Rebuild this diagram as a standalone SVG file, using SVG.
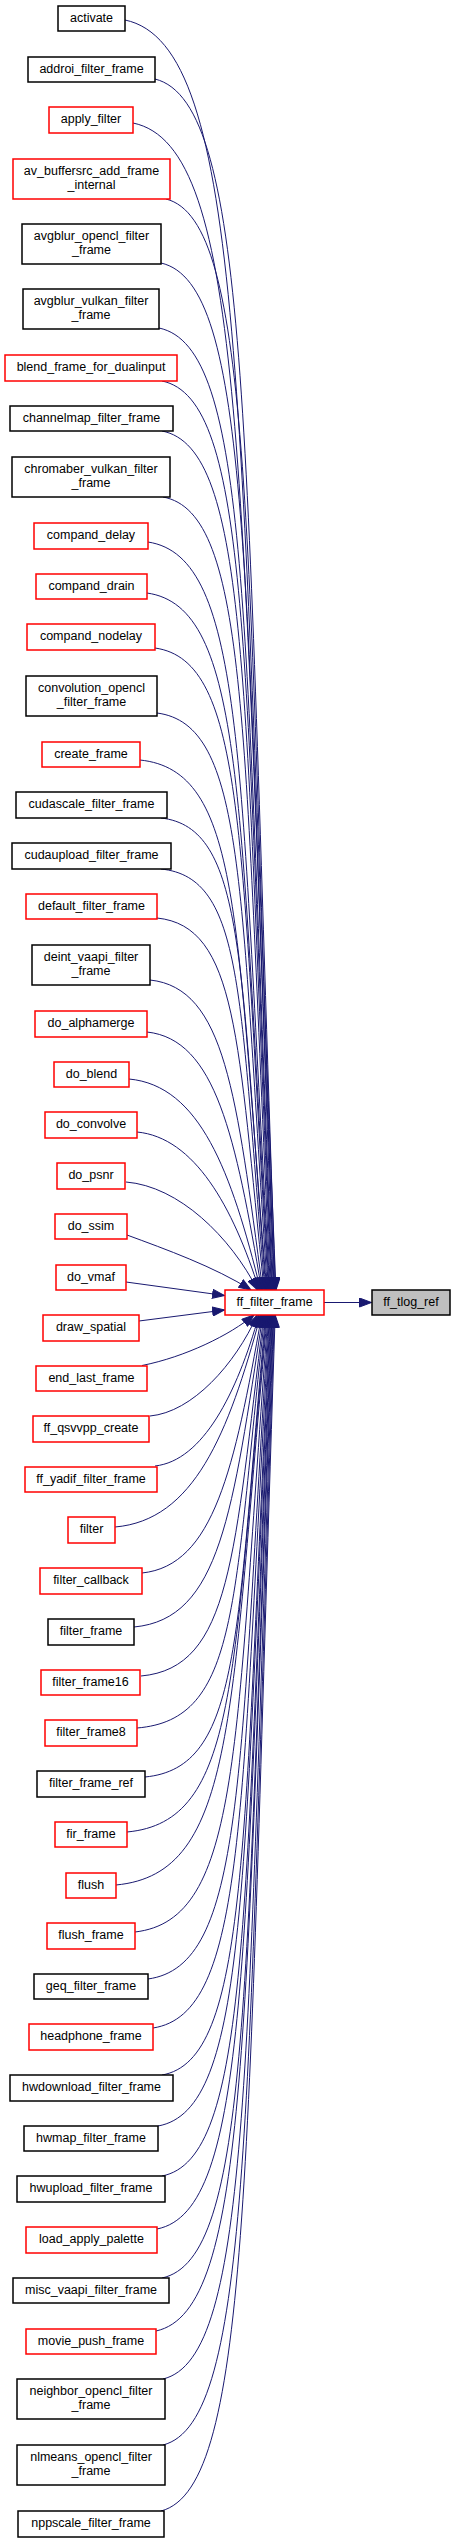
<svg xmlns="http://www.w3.org/2000/svg" width="455" height="2543" viewBox="0 0 455 2543">
<defs>
<style>
.r rect{fill:#fff;stroke:#ff0000;stroke-width:1.5}
.k rect{fill:#fff;stroke:#000;stroke-width:1.5}
.g rect{fill:#bfbfbf;stroke:#000;stroke-width:1.5}
text{font-family:"Liberation Sans",Arial,sans-serif;font-size:12.5px;text-anchor:middle;fill:#000}
#edges path{fill:none;stroke:#191970;stroke-width:1;marker-end:url(#ah)}
</style>
<marker id="ah" markerUnits="userSpaceOnUse" viewBox="0 0 13 10" refX="12.5" refY="5" markerWidth="13" markerHeight="10" orient="auto">
<path d="M0.5,0.5 L12.5,5 L0.5,9.5 z" fill="#191970" stroke="#191970" stroke-width="1"/>
</marker>
</defs>
<rect x="0" y="0" width="455" height="2543" fill="#fff"/>
<g id="edges">
<path d="M125,20 C245.8,45.4 238.3,401 276,1290"/>
<path d="M155,79 C251.3,103.2 245.3,442.3 275.4,1290"/>
<path d="M133,123 C246.5,146.3 239.4,473.1 274.9,1290"/>
<path d="M166,199 C252.5,220.8 247.1,526.3 274.1,1290"/>
<path d="M161,263 C250.9,283.5 245.3,571.1 273.4,1290"/>
<path d="M159,328 C249.9,347.2 244.2,616.6 272.6,1290"/>
<path d="M162,381 C250,399.2 244.5,653.7 272,1290"/>
<path d="M162,431 C249.5,448.2 244,688.7 271.4,1290"/>
<path d="M163,497 C249,512.9 243.6,734.9 270.5,1290"/>
<path d="M148,542 C245.5,557 239.4,766.4 269.9,1290"/>
<path d="M147,593 C244.8,606.9 238.7,802.1 269.3,1290"/>
<path d="M155,648 C245.8,660.8 240.1,840.6 268.5,1290"/>
<path d="M157,713 C245.4,724.5 239.9,886.1 267.5,1290"/>
<path d="M140,760 C241.4,770.6 235.1,919 266.8,1290"/>
<path d="M161,818 C244.9,827.4 239.7,959.6 265.9,1290"/>
<path d="M161,869 C244.2,877.4 239,995.3 265,1290"/>
<path d="M157,918 C237.3,926.3 237.9,1039.3 264.1,1290"/>
<path d="M150,980 C225.4,988 236.2,1094.4 262.8,1290"/>
<path d="M147,1032 C215.8,1039.4 235.5,1136.2 261.7,1290"/>
<path d="M129,1079 C199.8,1085.6 231.4,1171.2 260.6,1290"/>
<path d="M137,1132 C194.3,1137.4 233,1206.7 259.2,1290"/>
<path d="M126,1182 C179,1186.3 230.4,1236.8 257.6,1290"/>
<path d="M127,1235 C165,1249 215,1267 251,1290"/>
<path d="M126,1282 L224.5,1295.5"/>
<path d="M139,1321 L224.5,1310"/>
<path d="M142,1365.5 C185,1357 230,1335 254,1315"/>
<path d="M150,1416 C192.3,1412.2 235.2,1364.3 257.3,1315"/>
<path d="M155,1466 C202.8,1460.7 236.8,1393.8 259,1315"/>
<path d="M115,1527 C193.6,1520.4 228.3,1434.6 260.6,1315"/>
<path d="M142,1573 C213.8,1565.6 234.4,1468.8 261.7,1315"/>
<path d="M134,1627 C220.5,1619 232.5,1512.5 262.9,1315"/>
<path d="M141,1676 C231.5,1667.8 234,1555.4 263.9,1315"/>
<path d="M137,1728 C239.2,1719.7 232.8,1604.1 264.8,1315"/>
<path d="M145,1777 C241.6,1767.8 235.5,1638.4 265.7,1315"/>
<path d="M127,1832 C238.7,1821.7 231.7,1676.9 266.6,1315"/>
<path d="M116,1885 C237.1,1873.6 229.5,1714 267.4,1315"/>
<path d="M135,1932 C241.5,1919.7 234.8,1746.9 268.1,1315"/>
<path d="M148,1979 C244.6,1965.7 238.6,1779.8 268.8,1315"/>
<path d="M153,2028 C246.2,2013.7 240.4,1814.1 269.5,1315"/>
<path d="M162,2075 C248.5,2059.8 243.1,1847 270.1,1315"/>
<path d="M158,2126 C248.2,2109.8 242.6,1882.7 270.8,1315"/>
<path d="M162,2176 C249.5,2158.8 244,1917.7 271.4,1315"/>
<path d="M157,2229 C249.1,2210.7 243.3,1954.8 272.1,1315"/>
<path d="M162,2278 C250.5,2258.7 244.9,1989.1 272.6,1315"/>
<path d="M156,2331 C249.8,2310.7 244,2026.2 273.3,1315"/>
<path d="M163,2379 C251.6,2357.7 246.1,2059.8 273.8,1315"/>
<path d="M163,2445 C252.2,2422.4 246.6,2106 274.5,1315"/>
<path d="M161,2511 C252.4,2487.1 246.6,2152.2 275.2,1315"/>
<path d="M324,1302.5 L371.5,1302.5"/>
</g>
<g id="n_activate" class="k"><rect x="58" y="6" width="67" height="25"/><text x="91.5" y="22">activate</text></g>
<g id="n_addroi_filter_frame" class="k"><rect x="28" y="57" width="127" height="25"/><text x="91.5" y="73">addroi_filter_frame</text></g>
<g id="n_apply_filter" class="r"><rect x="49" y="107" width="84" height="26"/><text x="91" y="123">apply_filter</text></g>
<g id="n_av_buffersrc_add_frame_internal" class="r"><rect x="13" y="159" width="157" height="40"/><text x="91.5" y="174.5">av_buffersrc_add_frame</text><text x="91.5" y="188.5">_internal</text></g>
<g id="n_avgblur_opencl_filter_frame" class="k"><rect x="22" y="224" width="139" height="40"/><text x="91.5" y="239.5">avgblur_opencl_filter</text><text x="91.5" y="253.5">_frame</text></g>
<g id="n_avgblur_vulkan_filter_frame" class="k"><rect x="23" y="289" width="136" height="40"/><text x="91" y="304.5">avgblur_vulkan_filter</text><text x="91" y="318.5">_frame</text></g>
<g id="n_blend_frame_for_dualinput" class="r"><rect x="5" y="355" width="172" height="26"/><text x="91" y="371">blend_frame_for_dualinput</text></g>
<g id="n_channelmap_filter_frame" class="k"><rect x="10" y="406" width="163" height="25"/><text x="91.5" y="422">channelmap_filter_frame</text></g>
<g id="n_chromaber_vulkan_filter_frame" class="k"><rect x="12" y="457" width="158" height="40"/><text x="91" y="472.5">chromaber_vulkan_filter</text><text x="91" y="486.5">_frame</text></g>
<g id="n_compand_delay" class="r"><rect x="34" y="523" width="114" height="26"/><text x="91" y="539">compand_delay</text></g>
<g id="n_compand_drain" class="r"><rect x="36" y="574" width="111" height="25"/><text x="91.5" y="590">compand_drain</text></g>
<g id="n_compand_nodelay" class="r"><rect x="27" y="624" width="128" height="26"/><text x="91" y="640">compand_nodelay</text></g>
<g id="n_convolution_opencl_filter_frame" class="k"><rect x="26" y="676" width="131" height="40"/><text x="91.5" y="691.5">convolution_opencl</text><text x="91.5" y="705.5">_filter_frame</text></g>
<g id="n_create_frame" class="r"><rect x="42" y="742" width="98" height="25"/><text x="91" y="758">create_frame</text></g>
<g id="n_cudascale_filter_frame" class="k"><rect x="16" y="792" width="151" height="26"/><text x="91.5" y="808">cudascale_filter_frame</text></g>
<g id="n_cudaupload_filter_frame" class="k"><rect x="12" y="843" width="159" height="26"/><text x="91.5" y="859">cudaupload_filter_frame</text></g>
<g id="n_default_filter_frame" class="r"><rect x="26" y="894" width="131" height="25"/><text x="91.5" y="910">default_filter_frame</text></g>
<g id="n_deint_vaapi_filter_frame" class="k"><rect x="32" y="945" width="118" height="40"/><text x="91" y="960.5">deint_vaapi_filter</text><text x="91" y="974.5">_frame</text></g>
<g id="n_do_alphamerge" class="r"><rect x="35" y="1011" width="112" height="26"/><text x="91" y="1027">do_alphamerge</text></g>
<g id="n_do_blend" class="r"><rect x="54" y="1062" width="75" height="25"/><text x="91.5" y="1078">do_blend</text></g>
<g id="n_do_convolve" class="r"><rect x="45" y="1112" width="92" height="26"/><text x="91" y="1128">do_convolve</text></g>
<g id="n_do_psnr" class="r"><rect x="57" y="1163" width="68" height="26"/><text x="91" y="1179">do_psnr</text></g>
<g id="n_do_ssim" class="r"><rect x="55" y="1214" width="72" height="25"/><text x="91" y="1230">do_ssim</text></g>
<g id="n_do_vmaf" class="r"><rect x="56" y="1265" width="70" height="25"/><text x="91" y="1281">do_vmaf</text></g>
<g id="n_draw_spatial" class="r"><rect x="43" y="1315" width="96" height="26"/><text x="91" y="1331">draw_spatial</text></g>
<g id="n_end_last_frame" class="r"><rect x="36" y="1366" width="111" height="25"/><text x="91.5" y="1382">end_last_frame</text></g>
<g id="n_ff_qsvvpp_create" class="r"><rect x="33" y="1416" width="116" height="26"/><text x="91" y="1432">ff_qsvvpp_create</text></g>
<g id="n_ff_yadif_filter_frame" class="r"><rect x="25" y="1467" width="132" height="25"/><text x="91" y="1483">ff_yadif_filter_frame</text></g>
<g id="n_filter" class="r"><rect x="68" y="1517" width="47" height="26"/><text x="91.5" y="1533">filter</text></g>
<g id="n_filter_callback" class="r"><rect x="40" y="1568" width="102" height="26"/><text x="91" y="1584">filter_callback</text></g>
<g id="n_filter_frame" class="k"><rect x="48" y="1619" width="86" height="26"/><text x="91" y="1635">filter_frame</text></g>
<g id="n_filter_frame16" class="r"><rect x="41" y="1670" width="99" height="25"/><text x="90.5" y="1686">filter_frame16</text></g>
<g id="n_filter_frame8" class="r"><rect x="45" y="1720" width="92" height="26"/><text x="91" y="1736">filter_frame8</text></g>
<g id="n_filter_frame_ref" class="k"><rect x="37" y="1771" width="108" height="26"/><text x="91" y="1787">filter_frame_ref</text></g>
<g id="n_fir_frame" class="r"><rect x="55" y="1822" width="72" height="25"/><text x="91" y="1838">fir_frame</text></g>
<g id="n_flush" class="r"><rect x="66" y="1873" width="50" height="25"/><text x="91" y="1889">flush</text></g>
<g id="n_flush_frame" class="r"><rect x="47" y="1923" width="88" height="26"/><text x="91" y="1939">flush_frame</text></g>
<g id="n_geq_filter_frame" class="k"><rect x="34" y="1974" width="114" height="25"/><text x="91" y="1990">geq_filter_frame</text></g>
<g id="n_headphone_frame" class="r"><rect x="29" y="2024" width="124" height="26"/><text x="91" y="2040">headphone_frame</text></g>
<g id="n_hwdownload_filter_frame" class="k"><rect x="10" y="2075" width="163" height="26"/><text x="91.5" y="2091">hwdownload_filter_frame</text></g>
<g id="n_hwmap_filter_frame" class="k"><rect x="24" y="2126" width="134" height="25"/><text x="91" y="2142">hwmap_filter_frame</text></g>
<g id="n_hwupload_filter_frame" class="k"><rect x="17" y="2176" width="148" height="26"/><text x="91" y="2192">hwupload_filter_frame</text></g>
<g id="n_load_apply_palette" class="r"><rect x="26" y="2227" width="131" height="26"/><text x="91.5" y="2243">load_apply_palette</text></g>
<g id="n_misc_vaapi_filter_frame" class="k"><rect x="13" y="2278" width="156" height="25"/><text x="91" y="2294">misc_vaapi_filter_frame</text></g>
<g id="n_movie_push_frame" class="r"><rect x="26" y="2329" width="130" height="25"/><text x="91" y="2345">movie_push_frame</text></g>
<g id="n_neighbor_opencl_filter_frame" class="k"><rect x="17" y="2379" width="148" height="40"/><text x="91" y="2394.5">neighbor_opencl_filter</text><text x="91" y="2408.5">_frame</text></g>
<g id="n_nlmeans_opencl_filter_frame" class="k"><rect x="17" y="2445" width="148" height="40"/><text x="91" y="2460.5">nlmeans_opencl_filter</text><text x="91" y="2474.5">_frame</text></g>
<g id="n_nppscale_filter_frame" class="k"><rect x="18" y="2511" width="146" height="26"/><text x="91" y="2527">nppscale_filter_frame</text></g>
<g id="n_ff_filter_frame" class="r"><rect x="225" y="1290" width="99" height="25"/><text x="274.5" y="1306">ff_filter_frame</text></g>
<g id="n_ff_tlog_ref" class="g"><rect x="372" y="1290" width="78" height="25"/><text x="411" y="1306">ff_tlog_ref</text></g>
</svg>
